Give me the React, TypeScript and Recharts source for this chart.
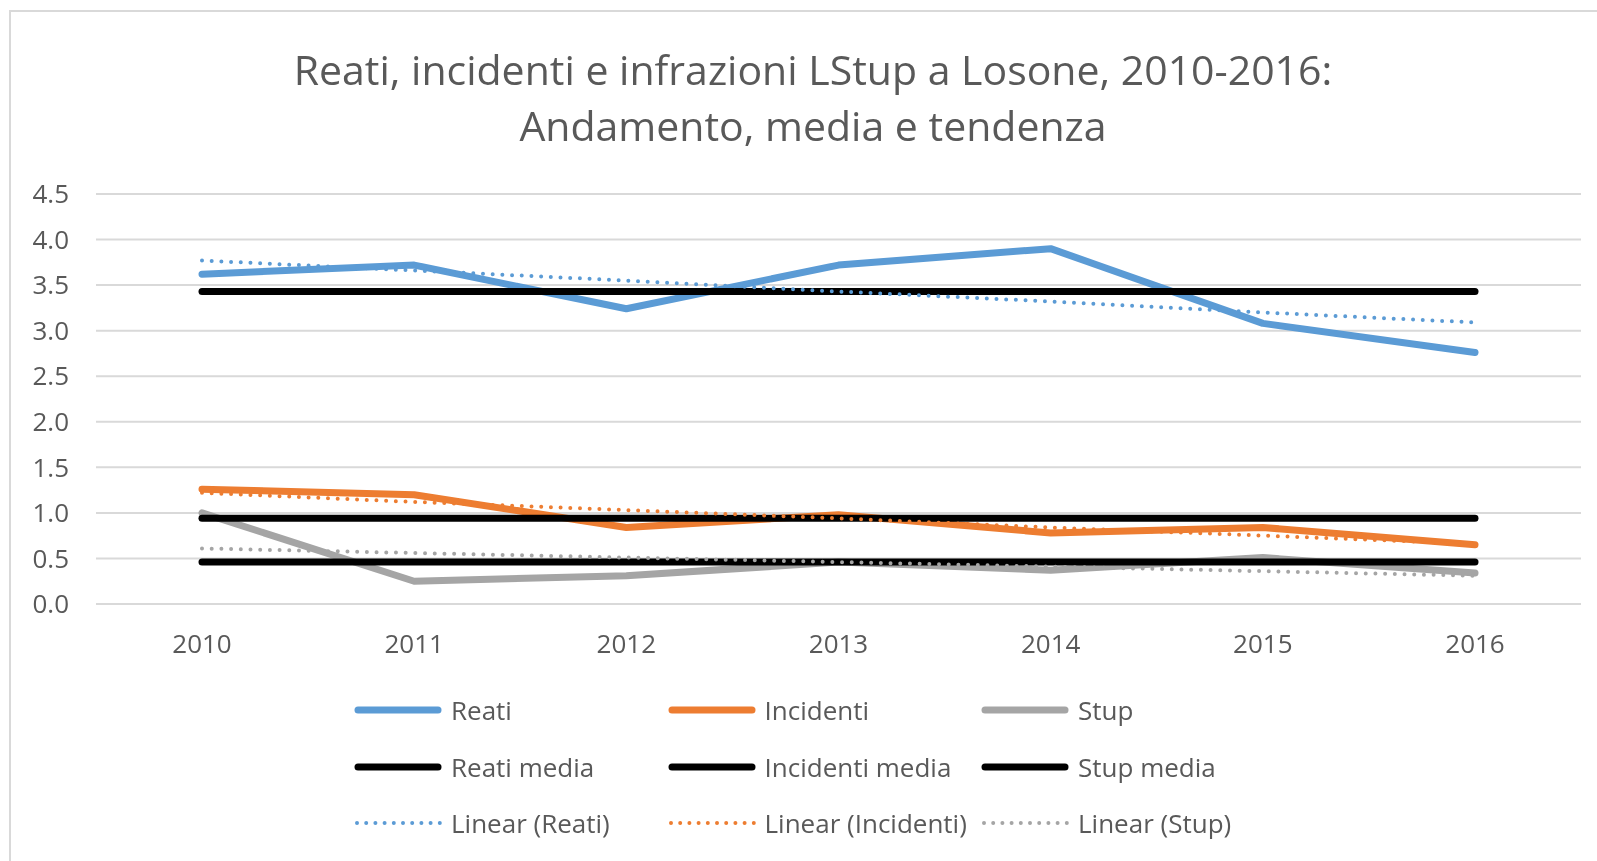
import React from 'react';
import { LineChart, Line, XAxis, YAxis, CartesianGrid } from 'recharts';

const years = ['2010', '2011', '2012', '2013', '2014', '2015', '2016'];
const reati = [3.62, 3.72, 3.24, 3.72, 3.9, 3.08, 2.76];
const incidenti = [1.26, 1.2, 0.84, 0.98, 0.78, 0.84, 0.65];
const stup = [1.0, 0.25, 0.31, 0.46, 0.37, 0.51, 0.34];
const reatiMedia = [3.43, 3.43, 3.43, 3.43, 3.43, 3.43, 3.43];
const incidentiMedia = [0.94, 0.94, 0.94, 0.94, 0.94, 0.94, 0.94];
const stupMedia = [0.46, 0.46, 0.46, 0.46, 0.46, 0.46, 0.46];
const linReati = [3.77, 3.66, 3.55, 3.43, 3.32, 3.2, 3.09];
const linIncidenti = [1.22, 1.12, 1.03, 0.94, 0.84, 0.75, 0.66];
const linStup = [0.61, 0.56, 0.51, 0.46, 0.41, 0.36, 0.31];
const yTicks = [0, 0.5, 1, 1.5, 2, 2.5, 3, 3.5, 4, 4.5];

const data = years.map((year, i) => ({
  year,
  reati: reati[i],
  incidenti: incidenti[i],
  stup: stup[i],
  reatiMedia: reatiMedia[i],
  incidentiMedia: incidentiMedia[i],
  stupMedia: stupMedia[i],
  linReati: linReati[i],
  linIncidenti: linIncidenti[i],
  linStup: linStup[i],
}));

const BLUE = '#5B9BD5';
const ORANGE = '#ED7D31';
const GRAY = '#A5A5A5';
const TEXT = '#595959';
const FONT = '"Open Sans", sans-serif';

const legendItems = [
  { label: 'Reati', color: BLUE, dotted: false },
  { label: 'Incidenti', color: ORANGE, dotted: false },
  { label: 'Stup', color: GRAY, dotted: false },
  { label: 'Reati media', color: '#000', dotted: false },
  { label: 'Incidenti media', color: '#000', dotted: false },
  { label: 'Stup media', color: '#000', dotted: false },
  { label: 'Linear (Reati)', color: BLUE, dotted: true },
  { label: 'Linear (Incidenti)', color: ORANGE, dotted: true },
  { label: 'Linear (Stup)', color: GRAY, dotted: true },
];

const solid = { strokeWidth: 7, strokeLinecap: 'round' as const, strokeLinejoin: 'round' as const };
const dotted = { strokeWidth: 4, strokeDasharray: '0 9.7', strokeLinecap: 'round' as const };

export default function App() {
  return (
    <div style={{ position: 'relative', width: 1589, height: 845, overflow: 'hidden', fontFamily: FONT }}>
      {/* chart frame, fixed so it can run to the window edge without scrollbars */}
      <div
        style={{
          position: 'fixed',
          left: 9,
          top: 10,
          width: 1600,
          height: 860,
          borderLeft: '2px solid #d9d9d9',
          borderTop: '2px solid #d9d9d9',
        }}
      />
      <div
        style={{
          position: 'absolute',
          left: 0,
          top: 33,
          width: 1610,
          textAlign: 'center',
          fontSize: 41,
          lineHeight: '56px',
          color: TEXT,
        }}
      >
        Reati, incidenti e infrazioni LStup a Losone, 2010-2016:
        <br />
        Andamento, media e tendenza
      </div>

      <div style={{ position: 'absolute', left: 0, top: 0 }}>
        <LineChart width={1589} height={845} data={data} margin={{ top: 186, right: 16, left: 28, bottom: 199 }}>
          <CartesianGrid vertical={false} stroke="#d9d9d9" strokeWidth={2} />
          <XAxis
            dataKey="year"
            axisLine={false}
            tickLine={false}
            tickSize={0}
            tickMargin={31}
            height={50}
            padding={{ left: 106, right: 106 }}
            tick={{ fill: TEXT, fontSize: 26, fontFamily: FONT }}
          />
          <YAxis
            domain={[0, 4.5]}
            ticks={yTicks}
            interval={0}
            width={60}
            axisLine={false}
            tickLine={false}
            tickSize={0}
            tickMargin={27}
            tickFormatter={(v: number) => v.toFixed(1)}
            tick={{ fill: TEXT, fontSize: 26, fontFamily: FONT }}
          />
          <Line type="linear" dataKey="reati" stroke={BLUE} {...solid} dot={false} activeDot={false} isAnimationActive={false} />
          <Line type="linear" dataKey="incidenti" stroke={ORANGE} {...solid} dot={false} activeDot={false} isAnimationActive={false} />
          <Line type="linear" dataKey="stup" stroke={GRAY} {...solid} dot={false} activeDot={false} isAnimationActive={false} />
          <Line type="linear" dataKey="reatiMedia" stroke="#000" {...solid} dot={false} activeDot={false} isAnimationActive={false} />
          <Line type="linear" dataKey="incidentiMedia" stroke="#000" {...solid} dot={false} activeDot={false} isAnimationActive={false} />
          <Line type="linear" dataKey="stupMedia" stroke="#000" {...solid} dot={false} activeDot={false} isAnimationActive={false} />
          <Line type="linear" dataKey="linReati" stroke={BLUE} {...dotted} dot={false} activeDot={false} isAnimationActive={false} />
          <Line type="linear" dataKey="linIncidenti" stroke={ORANGE} {...dotted} dot={false} activeDot={false} isAnimationActive={false} />
          <Line type="linear" dataKey="linStup" stroke={GRAY} {...dotted} dot={false} activeDot={false} isAnimationActive={false} />
        </LineChart>
      </div>

      {legendItems.map((item, i) => {
        const col = i % 3;
        const row = Math.floor(i / 3);
        const left = 346 + col * 313.5;
        const cy = 702 + row * 56.5;
        return (
          <div key={item.label} style={{ position: 'absolute', left, top: cy - 20, height: 40, display: 'flex', alignItems: 'center' }}>
            <svg width={97} height={40} style={{ display: 'block' }}>
              {item.dotted ? (
                <line x1={3} y1={20} x2={86} y2={20} stroke={item.color} strokeWidth={4} strokeDasharray="0 9.2" strokeLinecap="round" />
              ) : (
                <line x1={4} y1={20} x2={84} y2={20} stroke={item.color} strokeWidth={7} strokeLinecap="round" />
              )}
            </svg>
            <span style={{ fontSize: 26, color: TEXT, whiteSpace: 'nowrap', lineHeight: '40px' }}>{item.label}</span>
          </div>
        );
      })}
    </div>
  );
}
